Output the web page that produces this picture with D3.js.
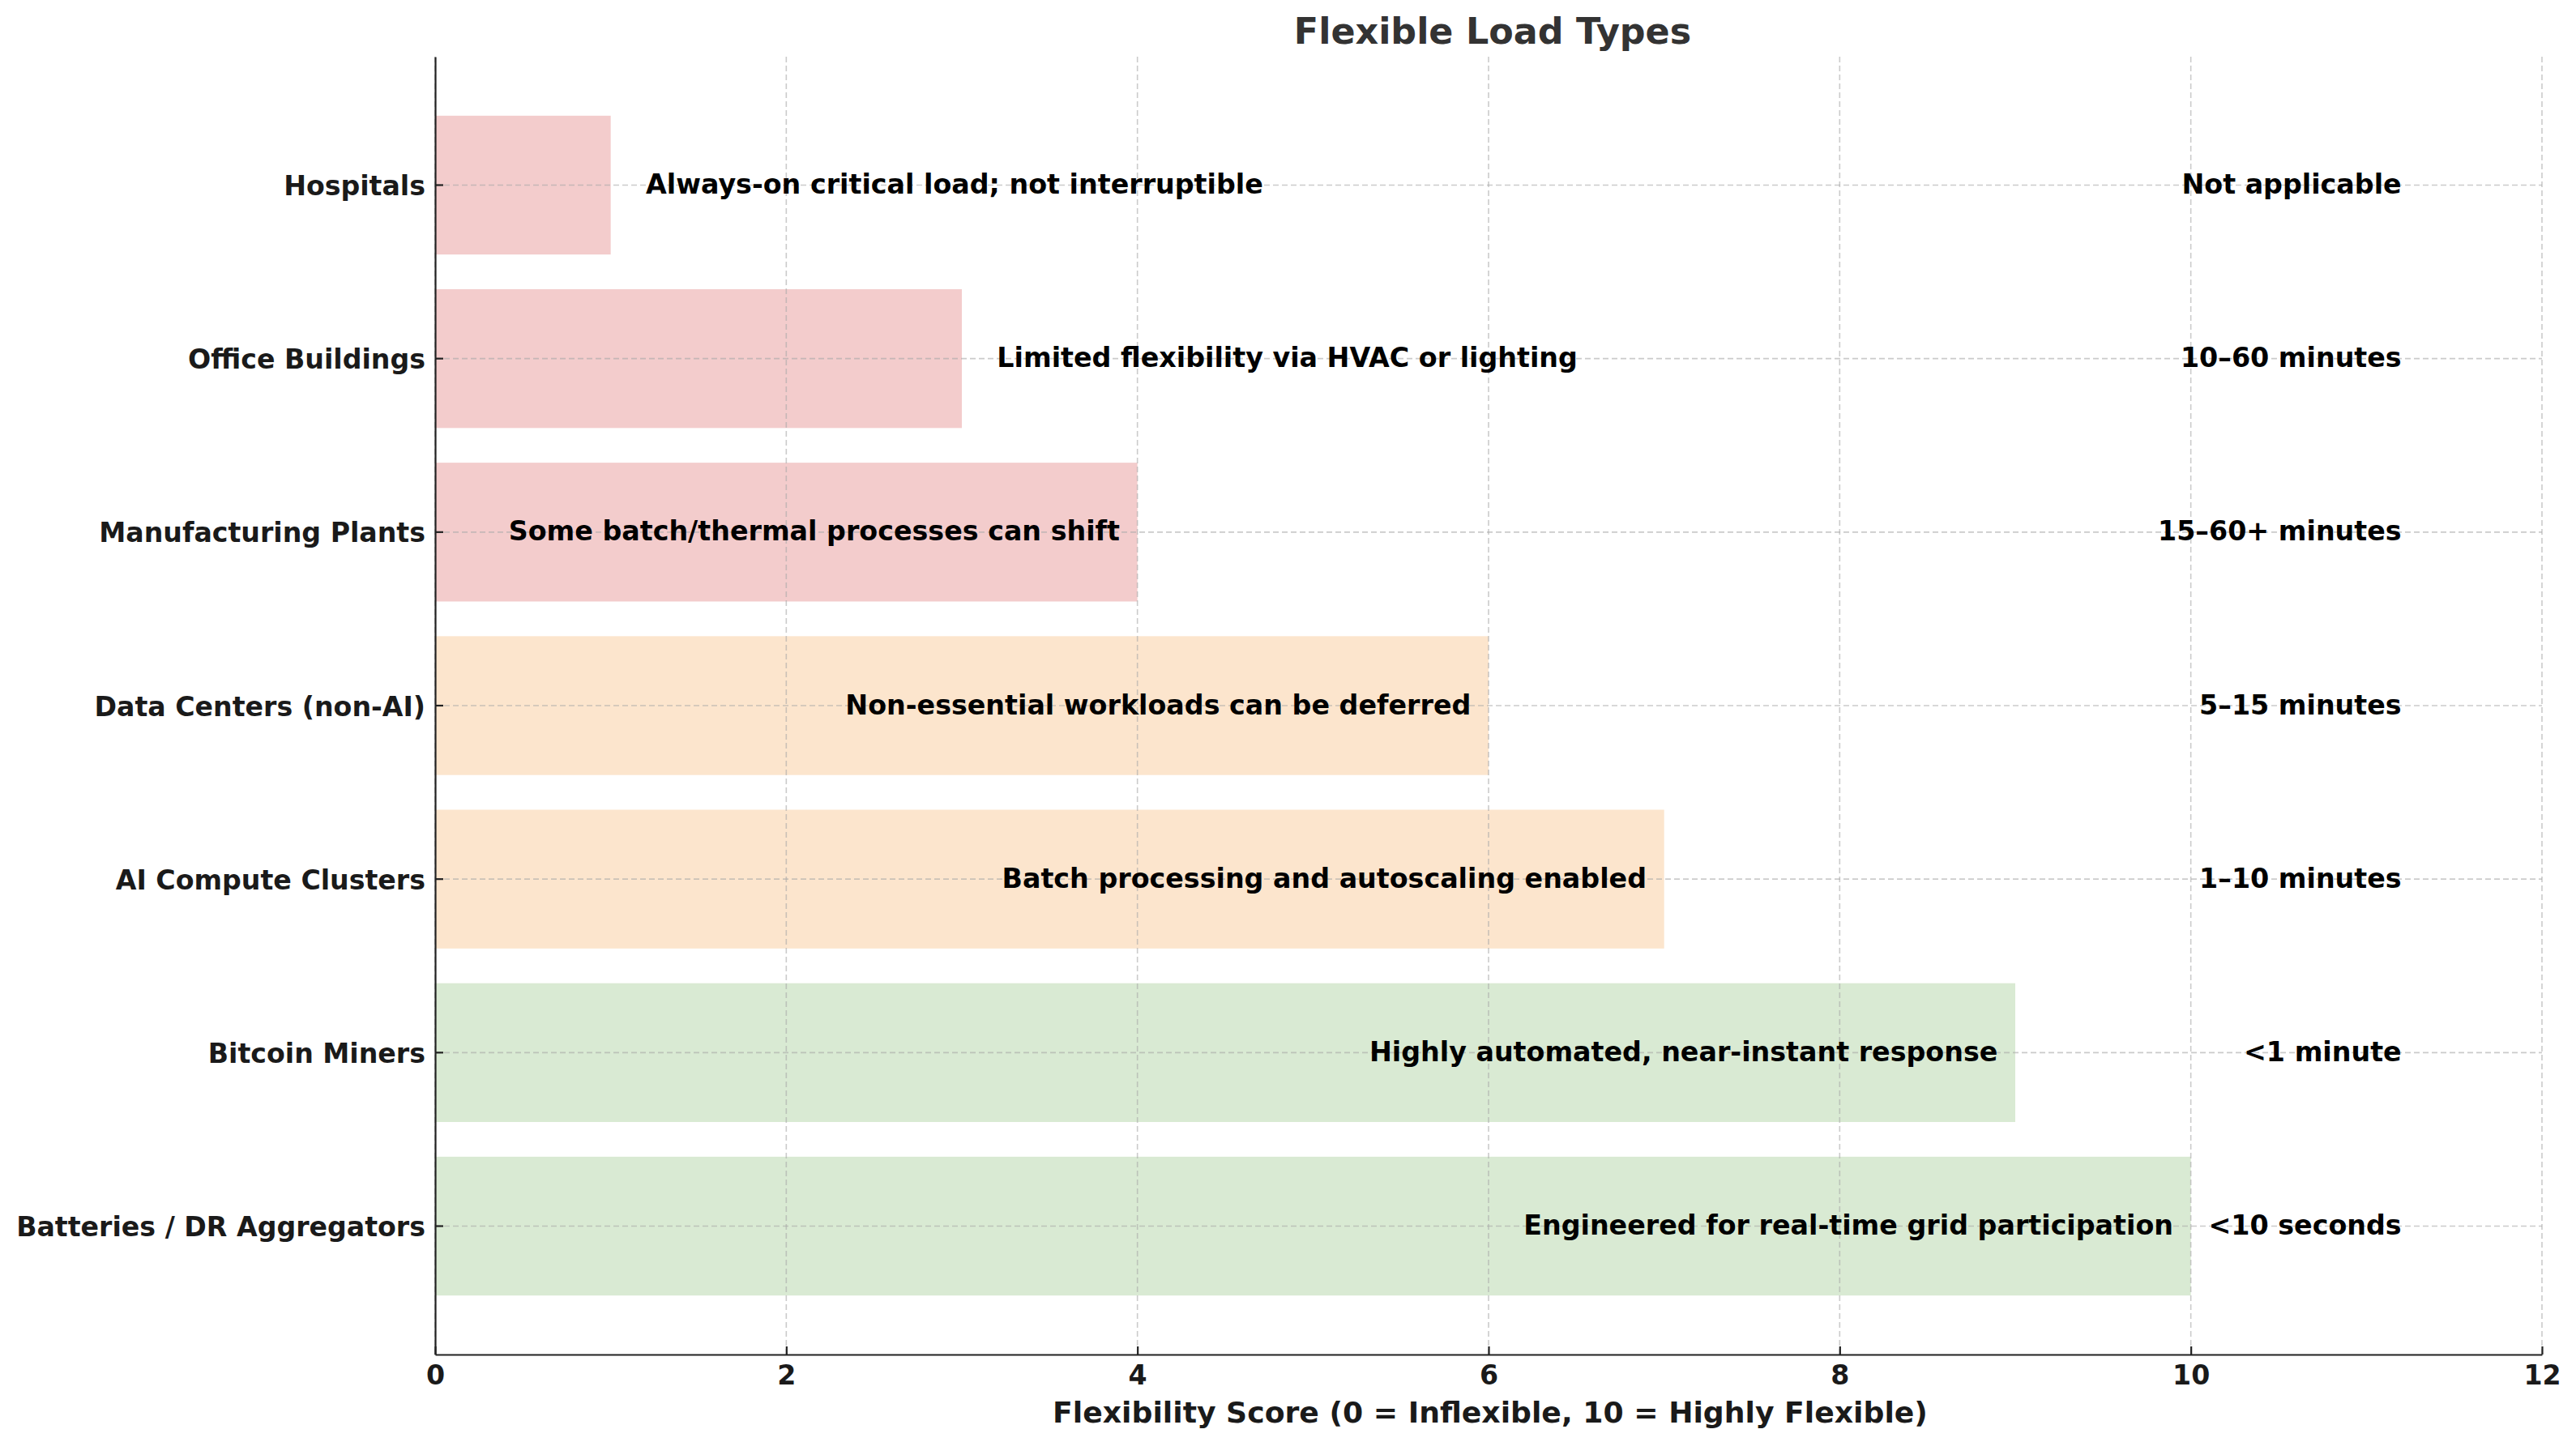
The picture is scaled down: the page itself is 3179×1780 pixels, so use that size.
<!DOCTYPE html>
<html>
<head>
<meta charset="utf-8">
<script src="https://cdn.jsdelivr.net/npm/d3@7"></script>
<style>
  body { margin: 0; background: #fff; }
  svg { display: block; font-family: "DejaVu Sans", sans-serif; font-weight: bold; }
</style>
</head>
<body>
<svg></svg>
<script>
// flexible load types — horizontal bars with inline notes

const categories = [
  "Batteries / DR Aggregators",
  "Bitcoin Miners",
  "AI Compute Clusters",
  "Data Centers (non-AI)",
  "Manufacturing Plants",
  "Office Buildings",
  "Hospitals"
];
const scores = [10, 9, 7, 6, 4, 3, 1];
const descriptions = [
  "Engineered for real-time grid participation",
  "Highly automated, near-instant response",
  "Batch processing and autoscaling enabled",
  "Non-essential workloads can be deferred",
  "Some batch/thermal processes can shift",
  "Limited flexibility via HVAC or lighting",
  "Always-on critical load; not interruptible"
];
const responseTimes = [
  "<10 seconds",
  "<1 minute",
  "1–10 minutes",
  "5–15 minutes",
  "15–60+ minutes",
  "10–60 minutes",
  "Not applicable"
];
const tiers = ["high", "high", "medium", "medium", "low", "low", "low"];
const xTicks = [0, 2, 4, 6, 8, 10, 12];

const width = 3179;
const height = 1780;
const margin = { left: 537, right: 3137, top: 70, bottom: 1672 };

const rows = categories.map((c, i) => ({
  name: c, score: scores[i], desc: descriptions[i], resp: responseTimes[i], tier: tiers[i]
}));

const color = d3.scaleOrdinal()
  .domain(["low", "medium", "high"])
  .range(["#f3cccc", "#fce5cd", "#d9ead3"]);

const x = d3.scaleLinear().domain([0, 12]).range([margin.left, margin.right]);
const y = d3.scaleBand()
  .domain(categories)
  .range([margin.bottom, margin.top])
  .paddingInner(0.2)
  .paddingOuter(0.34);

const svg = d3.select("svg")
  .attr("width", width)
  .attr("height", height);

// bars
svg.append("g")
  .selectAll("rect")
  .data(rows)
  .join("rect")
  .attr("x", x(0))
  .attr("y", d => y(d.name))
  .attr("width", d => x(d.score) - x(0))
  .attr("height", y.bandwidth())
  .attr("fill", d => color(d.tier));

// grid
const grid = svg.append("g")
  .attr("stroke", "#a8a8a8")
  .attr("stroke-opacity", 0.6)
  .attr("stroke-width", 1.6)
  .attr("stroke-dasharray", "7,4");

grid.selectAll("line.v")
  .data(xTicks)
  .join("line")
  .attr("class", "v")
  .attr("x1", d => x(d)).attr("x2", d => x(d))
  .attr("y1", margin.top).attr("y2", margin.bottom);

grid.selectAll("line.h")
  .data(categories)
  .join("line")
  .attr("class", "h")
  .attr("x1", margin.left).attr("x2", margin.right)
  .attr("y1", d => y(d) + y.bandwidth() / 2)
  .attr("y2", d => y(d) + y.bandwidth() / 2);

// axes
const xAxis = svg.append("g")
  .attr("transform", `translate(0,${margin.bottom})`)
  .call(d3.axisBottom(x).tickValues(xTicks).tickSizeInner(-10).tickSizeOuter(0).tickPadding(13));

const yAxis = svg.append("g")
  .attr("transform", `translate(${margin.left},0)`)
  .call(d3.axisLeft(y).tickSizeInner(-10).tickSizeOuter(0).tickPadding(12));

[xAxis, yAxis].forEach(a => {
  a.select(".domain").attr("stroke", "#222").attr("stroke-width", 2.2);
  a.selectAll(".tick line").attr("stroke", "#222").attr("stroke-width", 2.2);
  a.selectAll(".tick text")
    .attr("font-family", "DejaVu Sans")
    .attr("font-weight", "bold")
    .attr("font-size", 33.2)
    .attr("fill", "#1a1a1a");
});
yAxis.selectAll(".tick text").attr("dy", "0.38em");

// descriptions
svg.append("g")
  .selectAll("text")
  .data(rows)
  .join("text")
  .attr("x", d => d.score >= 4 ? x(d.score - 0.1) : x(d.score + 0.2))
  .attr("y", d => y(d.name) + y.bandwidth() / 2)
  .attr("dy", "0.32em")
  .attr("text-anchor", d => d.score >= 4 ? "end" : "start")
  .attr("font-size", 33.3)
  .attr("fill", "#000")
  .text(d => d.desc);

// response times
svg.append("g")
  .selectAll("text")
  .data(rows)
  .join("text")
  .attr("x", x(11.2))
  .attr("y", d => y(d.name) + y.bandwidth() / 2)
  .attr("dy", "0.32em")
  .attr("text-anchor", "end")
  .attr("font-size", 33.3)
  .attr("fill", "#000")
  .text(d => d.resp);

// title and axis label
svg.append("text")
  .attr("x", (margin.left + margin.right) / 2 + 5)
  .attr("y", 54)
  .attr("text-anchor", "middle")
  .attr("font-size", 44.4)
  .attr("fill", "#333")
  .text("Flexible Load Types");

svg.append("text")
  .attr("x", (margin.left + margin.right) / 2 + 2)
  .attr("y", 1756)
  .attr("text-anchor", "middle")
  .attr("font-size", 36.2)
  .attr("fill", "#1a1a1a")
  .text("Flexibility Score (0 = Inflexible, 10 = Highly Flexible)");
</script>
</body>
</html>
